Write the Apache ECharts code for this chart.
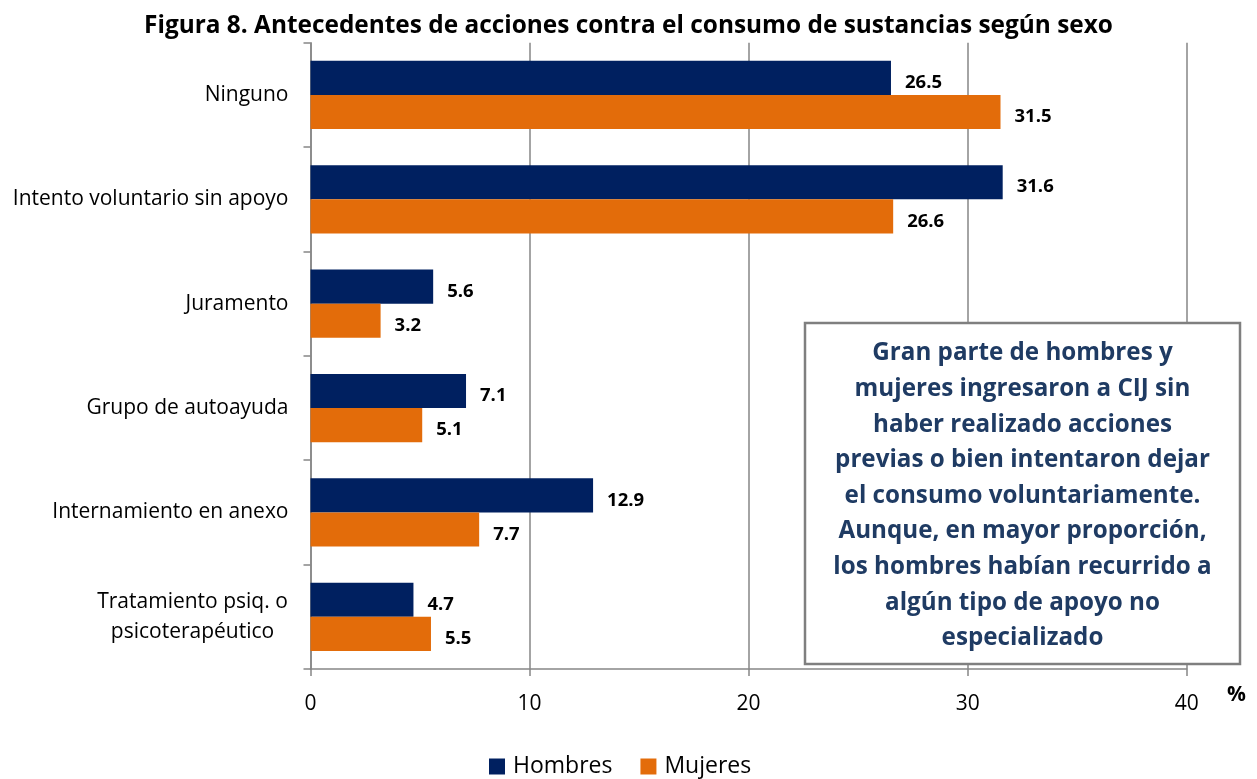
<!DOCTYPE html>
<html>
<head>
<meta charset="utf-8">
<script src="https://cdn.jsdelivr.net/npm/echarts@6/dist/echarts.min.js"></script>
<style>
html,body{margin:0;padding:0;background:#fff;}
#chart{width:1257px;height:779px;}
</style>
</head>
<body>
<div id="chart"></div>
<script>
const categories = ['Ninguno', 'Intento voluntario sin apoyo', 'Juramento', 'Grupo de autoayuda', 'Internamiento en anexo', 'Tratamiento psiq. o\npsicoterapéutico'];
const hombres = [26.5, 31.6, 5.6, 7.1, 12.9, 4.7];
const mujeres = [31.5, 26.6, 3.2, 5.1, 7.7, 5.5];
const xTicks = [0, 10, 20, 30, 40];
const titleText = 'Figura 8. Antecedentes de acciones contra el consumo de sustancias según sexo';
const boxText = 'Gran parte de hombres y\nmujeres ingresaron a CIJ sin\nhaber realizado acciones\nprevias o bien intentaron dejar\nel consumo voluntariamente.\nAunque, en mayor proporción,\nlos hombres habían recurrido a\nalgún tipo de apoyo no\nespecializado';

const FONT = 'Open Sans';
const chart = echarts.init(document.getElementById('chart'), null, {renderer: 'canvas'});
const labelStyle = {
  show: true, position: 'right', distance: 14, offset: [0, 5],
  fontFamily: FONT, fontWeight: 'bold', fontSize: 18.5, color: '#000',
  formatter: p => p.value.toFixed(1)
};
chart.setOption({
  animation: false,
  title: {
    text: titleText, left: 'center', top: 9,
    textStyle: {fontFamily: FONT, fontWeight: 'bold', fontSize: 24.4, color: '#000'}
  },
  legend: {
    top: 750, left: 484, itemWidth: 16, itemHeight: 16, itemGap: 28,
    icon: 'rect',
    textStyle: {fontFamily: FONT, fontSize: 23, color: '#000', padding: [0, 0, 0, 3]},
    data: ['Hombres', 'Mujeres']
  },
  grid: {left: 310.5, right: 70.3, top: 42.7, bottom: 110},
  xAxis: {
    type: 'value', min: xTicks[0], max: xTicks[xTicks.length - 1], interval: 10,
    axisLine: {show: true, lineStyle: {color: '#868686', width: 1.5}},
    axisTick: {show: true, length: 7, lineStyle: {color: '#868686', width: 1.5}},
    splitLine: {show: true, lineStyle: {color: '#868686', width: 1.5}},
    axisLabel: {fontFamily: FONT, fontSize: 21, color: '#000', margin: 25}
  },
  yAxis: {
    type: 'category', data: categories, inverse: true,
    axisLine: {show: true, lineStyle: {color: '#868686', width: 1.5}},
    axisTick: {show: true, length: 7, lineStyle: {color: '#868686', width: 1.5}},
    axisLabel: {
      fontFamily: FONT, fontSize: 21, color: '#000', margin: 22, lineHeight: 30,
      formatter: v => v.indexOf('\n') >= 0 ? v.split('\n').map(s => '{c|' + s + '}').join('\n') : v,
      rich: {c: {fontFamily: FONT, fontSize: 21, color: '#000', width: 192, align: 'center', lineHeight: 30}}
    }
  },
  series: [
    {name: 'Hombres', type: 'bar', data: hombres, barCategoryGap: '34.6%', barGap: '0%',
     itemStyle: {color: '#002060'}, label: labelStyle},
    {name: 'Mujeres', type: 'bar', data: mujeres, barCategoryGap: '34.6%', barGap: '0%',
     itemStyle: {color: '#E36C0A'}, label: labelStyle}
  ],
  graphic: [
    {type: 'text', left: 1227, top: 685, style: {text: '%', fontFamily: FONT, fontWeight: 'bold', fontSize: 21, fill: '#000'}},
    {type: 'rect', shape: {x: 805, y: 323, width: 435, height: 341},
     style: {fill: '#fff', stroke: '#7F7F7F', lineWidth: 2.5}, z: 100},
    {type: 'text', x: 1022.5, y: 496, z: 101,
     style: {text: boxText, fontFamily: FONT, fontWeight: 'bold', fontSize: 24.2, fill: '#1F3B63',
             align: 'center', verticalAlign: 'middle', lineHeight: 35.6}}
  ]
});
</script>
</body>
</html>
